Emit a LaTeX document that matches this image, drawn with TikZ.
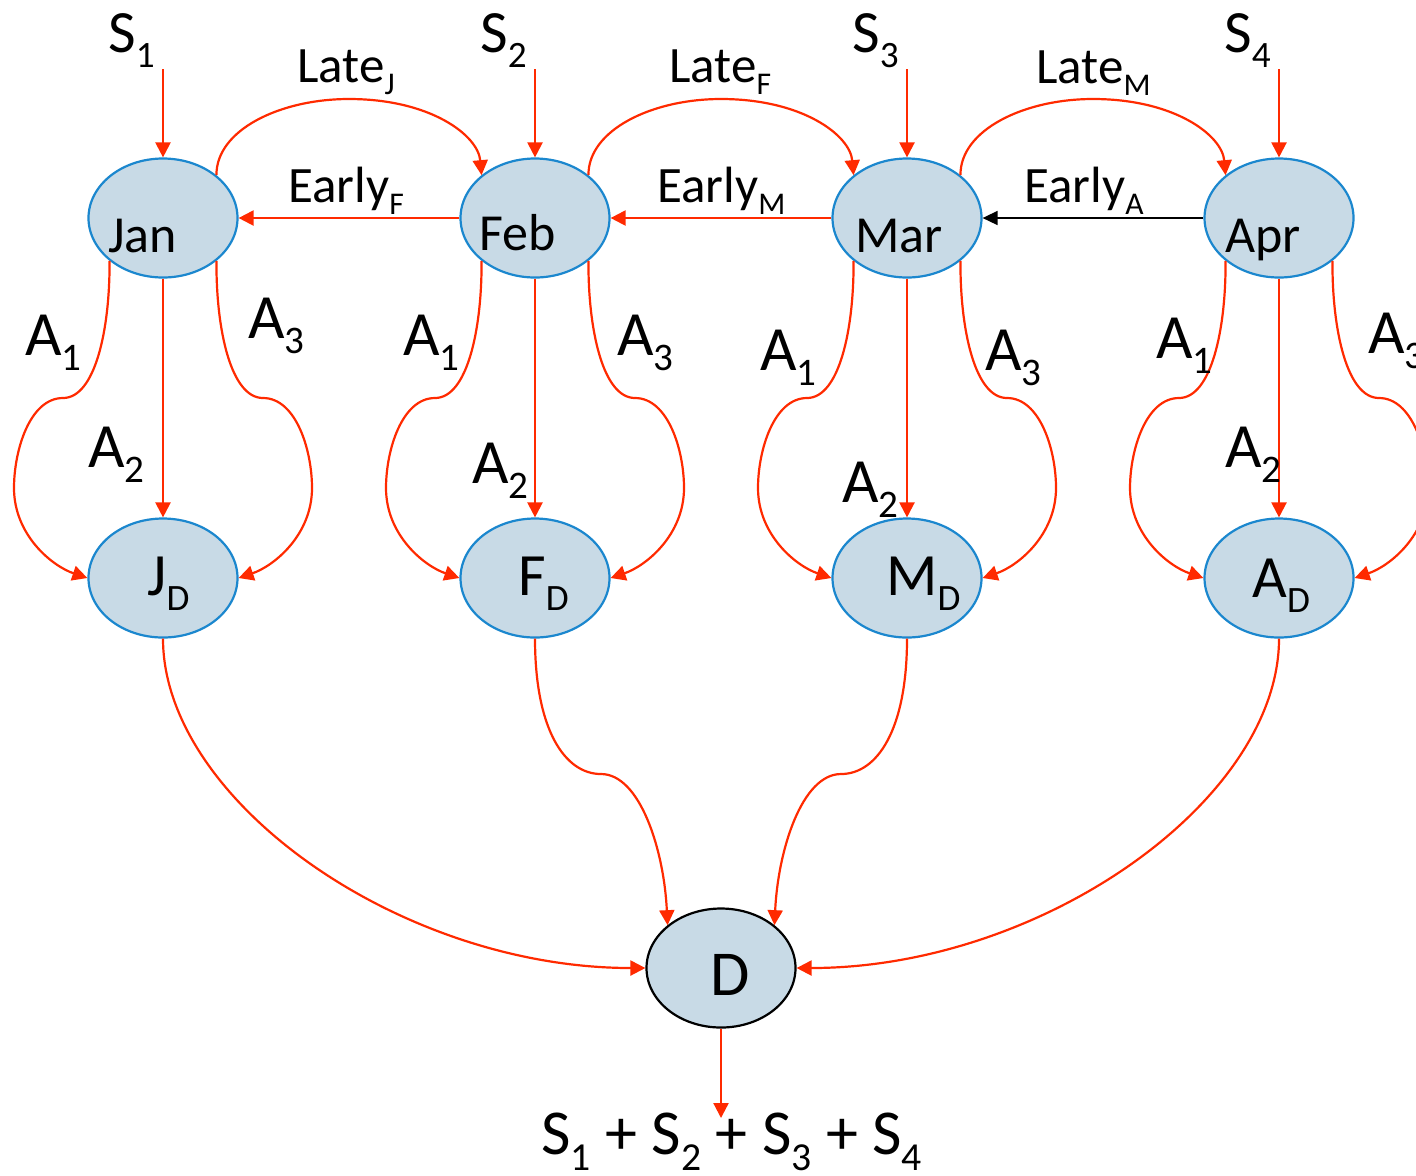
\documentclass[tikz,border=0pt]{standalone}
\usepackage{fontspec}
\setmainfont{Carlito}
\usepackage{graphicx}
\usetikzlibrary{arrows.meta,shapes.geometric}
\definecolor{ared}{HTML}{FF2A00}
\definecolor{efill}{HTML}{C8DAE6}
\definecolor{eblue}{HTML}{1B87CE}
\newcommand\sbs[1]{\raisebox{-0.25em}{\scalebox{0.62}{#1}}}
\begin{document}
\begin{tikzpicture}[x=0.5pt,y=-0.5pt,
  st/.style={ellipse, draw=eblue, line width=1.1pt, fill=efill, minimum width=74.5pt, minimum height=59.5pt, inner sep=0pt},
  dst/.style={st, draw=black},
  lbl/.style={inner sep=0pt, anchor=base west},
  fS/.style={font=\fontsize{30}{36}\selectfont},
  fL/.style={font=\fontsize{25.5}{30}\selectfont},
  fM/.style={font=\fontsize{26}{31}\selectfont},
  fA/.style={font=\fontsize{31.5}{38}\selectfont},
  fX/.style={font=\fontsize{30}{36}\selectfont},
  fD/.style={font=\fontsize{32}{38}\selectfont},
  fB/.style={font=\fontsize{32}{38}\selectfont},
  rarr/.style={draw=ared, line width=1.1pt, -{Triangle[length=7.5pt,width=7.5pt]}},
  barr/.style={draw=black, line width=0.8pt, -{Triangle[length=7.5pt,width=7pt]}},
]
\useasboundingbox (0,0) rectangle (1416,1175);
\clip (0,0) rectangle (1416,1175);

% ellipses
\node[st] (jan) at (163,218) {};
\node[st] (feb) at (535,218) {};
\node[st] (mar) at (907,218) {};
\node[st] (apr) at (1279,218) {};
\node[st] (jd) at (163,578) {};
\node[st] (fd) at (535,578) {};
\node[st] (md) at (907,578) {};
\node[st] (ad) at (1279,578) {};
\node[dst] (d) at (721,968) {};

% texts in ellipses
\node[lbl,fM] (jant) at (108,252) {Jan};
\node[lbl,fM] (febt) at (479,250) {Feb};
\node[lbl,fM] (mart) at (855,252) {Mar};
\node[lbl,fM] (aprt) at (1225,252) {Apr};
\node[lbl,fX] (jdt) at (147,595) {J\sbs{D}};
\node[lbl,fX] (fdt) at (518,595) {F\sbs{D}};
\node[lbl,fX] (mdt) at (886,595) {M\sbs{D}};
\node[lbl,fX] (adt) at (1252,597) {A\sbs{D}};
\node[lbl,fD] (dt) at (710,995) {D};

% S inputs
\node[lbl,fS] (s1) at (108,52) {S\sbs{1}};
\node[lbl,fS] (s2) at (480,52) {S\sbs{2}};
\node[lbl,fS] (s3) at (852,52) {S\sbs{3}};
\node[lbl,fS] (s4) at (1224,52) {S\sbs{4}};
\foreach \m/\c in {jan/163,feb/535,mar/907,apr/1279}{
  \coordinate (\m-in) at (\c,69);
  \draw[rarr] (\m-in) -- (\m.north);
}

% Late arcs
\foreach \a/\b/\c in {jan/feb/163,feb/mar/535,mar/apr/907}{
  \draw[rarr] (\a.north east) .. controls (\c+53,130) and (\c+117,99) .. (\c+186,99)
     .. controls (\c+267,99) and (\c+315,135) .. (\b.north west);
}
\node[lbl,fL] (latej) at (297,82) {Late\sbs{J}};
\node[lbl,fL] (latef) at (669,82) {Late\sbs{F}};
\node[lbl,fL] (latem) at (1036,83) {Late\sbs{M}};

% Early arrows
\draw[rarr] (feb.west) -- (jan.east);
\draw[rarr] (mar.west) -- (feb.east);
\draw[barr] (apr.west) -- (mar.east);
\node[lbl,fL] (earlyf) at (288,202) {Early\sbs{F}};
\node[lbl,fL] (earlym) at (657,202) {Early\sbs{M}};
\node[lbl,fL] (earlya) at (1024,202) {Early\sbs{A}};

% A1, A2, A3 connectors
\foreach \m/\d/\c in {jan/jd/163,feb/fd/535,mar/md/907,apr/ad/1279}{
  \draw[rarr] (\m.south west) .. controls (\c-53,330) and (\c-68,398) .. (\c-100,398)
     .. controls (\c-133,398) and (\c-149,450) .. (\c-149,488)
     .. controls (\c-149,535) and (\c-111,566) .. (\d.west);
  \draw[rarr] (\m.south east) .. controls (\c+53,330) and (\c+68,398) .. (\c+100,398)
     .. controls (\c+133,398) and (\c+149,450) .. (\c+149,488)
     .. controls (\c+149,535) and (\c+111,566) .. (\d.east);
  \draw[rarr] (\m.south) -- (\d.north);
}
\node[lbl,fA] (ja1) at (25,355) {A\sbs{1}};
\node[lbl,fA] (ja2) at (88,467) {A\sbs{2}};
\node[lbl,fA] (ja3) at (248,338) {A\sbs{3}};
\node[lbl,fA] (fa1) at (403,355) {A\sbs{1}};
\node[lbl,fA] (fa2) at (472,483) {A\sbs{2}};
\node[lbl,fA] (fa3) at (617,355) {A\sbs{3}};
\node[lbl,fA] (ma1) at (760,370) {A\sbs{1}};
\node[lbl,fA] (ma2) at (842,502) {A\sbs{2}};
\node[lbl,fA] (ma3) at (985,370) {A\sbs{3}};
\node[lbl,fA] (aa1) at (1156,358) {A\sbs{1}};
\node[lbl,fA] (aa2) at (1225,467) {A\sbs{2}};
\node[lbl,fA] (aa3) at (1368,353) {A\sbs{3}};

% to D
\draw[rarr] (jd.south) .. controls (163,800) and (400,968) .. (d.west);
\draw[rarr] (fd.south) .. controls (535,730) and (565,774) .. (601,774)
   .. controls (640,774) and (664,850) .. (d.north west);
\draw[rarr] (md.south) .. controls (907,730) and (877,774) .. (841,774)
   .. controls (802,774) and (778,850) .. (d.north east);
\draw[rarr] (ad.south) .. controls (1279,800) and (1042,968) .. (d.east);

% output
\coordinate (out) at (721,1118);
\draw[rarr] (d.south) -- (out);
\node[lbl,fB] (sum) at (541,1154) {S\sbs{1} + S\sbs{2} + S\sbs{3} + S\sbs{4}};
\end{tikzpicture}
\end{document}
